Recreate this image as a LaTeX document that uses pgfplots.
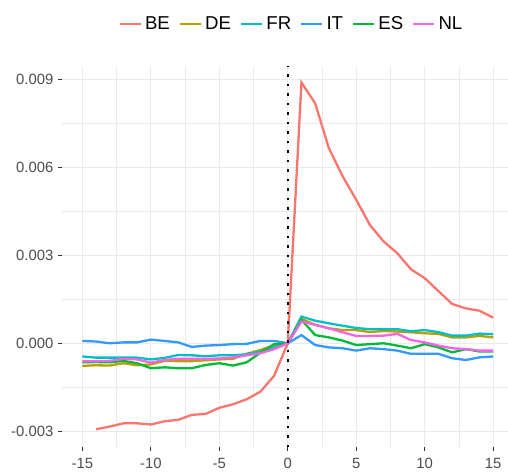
\documentclass[border=0pt]{standalone}
\usepackage{fontspec}
\setmainfont{Liberation Sans}
\usepackage{pgfplots}
\usepackage{pgfplotstable}
\pgfplotsset{compat=1.18}

\definecolor{cBE}{HTML}{F8766D}
\definecolor{cDE}{HTML}{B79F00}
\definecolor{cFR}{HTML}{00BFC4}
\definecolor{cIT}{HTML}{3399FF}
\definecolor{cES}{HTML}{00BA38}
\definecolor{cNL}{HTML}{F564E3}
\definecolor{gridc}{HTML}{EBEBEB}
\definecolor{labc}{HTML}{4D4D4D}

% event-time effects by country
\pgfplotstableread{
x   BE        DE        FR        IT        ES        NL
-15 nan      -0.00077  -0.00045   0.00008  -0.00065  -0.00061
-14 -0.00293 -0.00075  -0.00049   0.00006  -0.00064  -0.00061
-13 -0.00284 -0.00076  -0.00049   0.00000  -0.00065  -0.00060
-12 -0.00273 -0.00068  -0.00049   0.00003  -0.00060  -0.00053
-11 -0.00273 -0.00075  -0.00049   0.00003  -0.00068  -0.00055
-10 -0.00277 -0.00072  -0.00055   0.000125 -0.00085  -0.00066
-9  -0.00266 -0.00060  -0.00050   0.00008  -0.00082  -0.00057
-8  -0.00261 -0.00061  -0.00040   0.00003  -0.00085  -0.00053
-7  -0.00244 -0.00061  -0.00041  -0.000125 -0.00085  -0.00053
-6  -0.00241 -0.00058  -0.00044  -0.00008  -0.00074  -0.00053
-5  -0.00220 -0.00055  -0.00041  -0.00006  -0.00068  -0.00052
-4  -0.00208 -0.00053  -0.00041  -0.00003  -0.00076  -0.00048
-3  -0.00191 -0.00036  -0.000375 -0.00002  -0.00065  -0.00041
-2  -0.00165 -0.00023  -0.00028   0.00008  -0.00032  -0.00034
-1  -0.00111 -0.00007  -0.00015   0.00008  -0.00003  -0.00020
0    0        0         0         0         0         0
1    0.00889  0.00083   0.00091   0.00028   0.00080   0.00074
2    0.00818  0.00063   0.00077  -0.00006   0.00028   0.00063
3    0.00665  0.00051   0.00068  -0.00014   0.00020   0.00051
4    0.00570  0.00045   0.00060  -0.00017   0.00009   0.000375
5    0.00489  0.00045   0.00052  -0.00025  -0.00006   0.00025
6    0.00403  0.00038   0.00048  -0.00017  -0.00003   0.00025
7    0.00347  0.00042   0.00048  -0.00020   0.00000   0.00026
8    0.00307  0.00040   0.00048  -0.00025  -0.00008   0.00032
9    0.00252  0.000375  0.00041  -0.00036  -0.00017   0.00011
10   0.00222  0.00034   0.00045  -0.00036  -0.00003   0.00003
11   0.00178  0.00032   0.00038  -0.00036  -0.00014  -0.00008
12   0.00134  0.00020   0.00026  -0.00051  -0.00031  -0.00017
13   0.00119  0.00020   0.00026  -0.00057  -0.00020  -0.00020
14   0.00111  0.00025   0.00033  -0.00048  -0.00028  -0.00025
15   0.000875 0.00020   0.00031  -0.00045  -0.00028  -0.00025
}\effects

\begin{document}
\begin{tikzpicture}
\useasboundingbox (0,0) rectangle (508bp,473bp);
\begin{axis}[
    at={(61.8bp,25.9bp)}, anchor=south west,
    scale only axis, width=446.2bp, height=380.7bp,
    xmin=-16.5, xmax=16.08, ymin=-0.00354, ymax=0.00944,
    axis lines*=left, axis line style={draw=none},
    xtick={-15,-10,-5,0,5,10,15},
    xticklabels={-15,-10,-5,0,5,10,15},
    minor xtick={-12.5,-7.5,-2.5,2.5,7.5,12.5},
    ytick={-0.003,0,0.003,0.006,0.009},
    yticklabels={-0.003,0.000,0.003,0.006,0.009},
    minor ytick={-0.0015,0.0015,0.0045,0.0075},
    scaled y ticks=false,
    grid=both,
    major grid style={gridc, line width=0.9bp},
    minor grid style={gridc, line width=0.5bp},
    tick align=outside,
    major tick length=3.5bp, minor tick length=0pt,
    tick style={color=black!80, line width=0.7bp},
    ticklabel style={font=\fontsize{14.9}{16}\selectfont, text=labc},
    xticklabel style={yshift=-4bp},
    yticklabel style={xshift=-1.5bp},
    /pgf/number format/assume math mode=true,
    every axis plot/.append style={line width=2.3bp},
    legend columns=6,
    legend style={at={(axis description cs:0.516,1.111)}, anchor=center,
        draw=none, fill=none, font=\fontsize{18.7}{20}\selectfont,
        /tikz/every even column/.append style={column sep=6bp},
        nodes={inner xsep=3bp}},
    legend image code/.code={\draw[#1] (0bp,0bp) -- (21bp,0bp);},
]
\addplot[cBE] table[x=x, y=BE] {\effects};
\addplot[cDE] table[x=x, y=DE] {\effects};
\addplot[cFR] table[x=x, y=FR] {\effects};
\addplot[cIT] table[x=x, y=IT] {\effects};
\addplot[cES] table[x=x, y=ES] {\effects};
\addplot[cNL] table[x=x, y=NL] {\effects};
\addplot[black, line width=2.5bp, dash pattern=on 2.5bp off 7bp, forget plot]
    coordinates {(0,-0.00354) (0,0.00944)};
\legend{BE, DE, FR, IT, ES, NL}
\end{axis}
\end{tikzpicture}
\end{document}
